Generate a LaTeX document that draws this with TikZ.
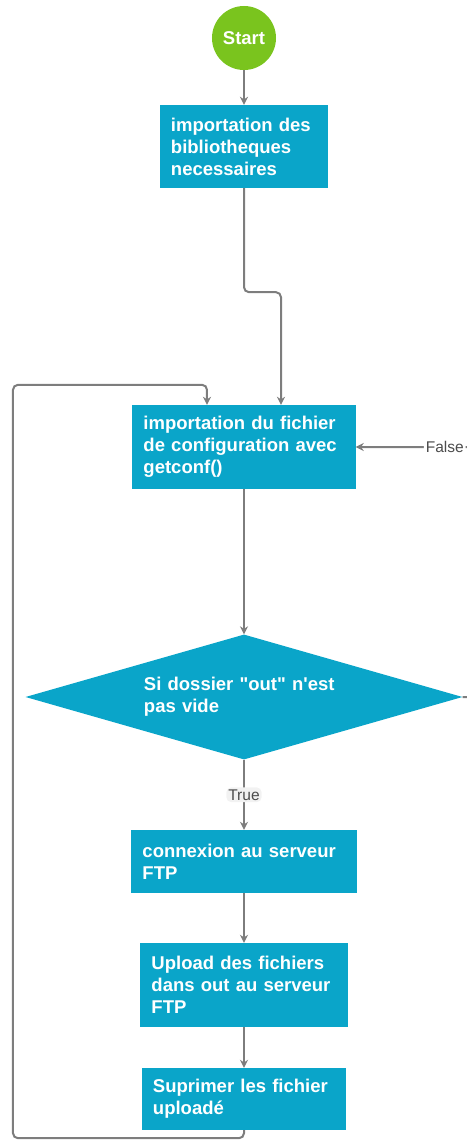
\documentclass[tikz,border=0pt]{standalone}
\usepackage{fontspec}
\setsansfont{Liberation Sans}[Ligatures=TeXOff]
\usepackage{tikz}
\usetikzlibrary{shapes.geometric, arrows.meta}
\definecolor{flowblue}{RGB}{10,165,201}
\definecolor{startgreen}{RGB}{122,196,30}
\definecolor{linegray}{RGB}{125,125,125}
\tikzstyle{arrow} = [line width=2pt,-{Stealth[length=8pt,width=8pt]},color=linegray,rounded corners=5pt]
\tikzstyle{startstop} = [circle, minimum size=64pt, inner sep=0pt, fill=startgreen, text=white, font=\sffamily\bfseries\fontsize{18.5}{22}\selectfont]
\tikzstyle{process} = [rectangle, fill=flowblue, text=white, align=left, inner xsep=11pt, inner ysep=0pt, font=\sffamily\bfseries\fontsize{18.5}{22}\selectfont]
\tikzstyle{decision} = [diamond, aspect=3.5, minimum width=437pt, minimum height=125pt, inner sep=0pt, text width=200pt, align=left, fill=flowblue, text=white, font=\sffamily\bfseries\fontsize{18.5}{22}\selectfont]
\tikzstyle{edgelabel} = [inner sep=2pt, text=black!70, font=\sffamily\fontsize{15.5}{18}\selectfont]

\begin{document}
\begin{tikzpicture}[node distance=100pt]
    \useasboundingbox (-244pt,38pt) rectangle (222pt,-1104pt);

    % nodes
    \node (start) [startstop] {Start};
    \node (bib) [process, below of=start, yshift=-8.5pt, text width=146pt, minimum height=83pt] {importation des\\bibliotheques\\necessaires};
    \node (conf) [process, below of=bib, yshift=-200.5pt, text width=201pt, minimum height=84pt] {importation du fichier\\de configuration avec\\getconf()};

    % test
    \node (dossier) [decision, below of=conf, yshift=-150pt] {Si dossier "out" n'est\\pas vide};

    % branch true
    \node (ftp) [process, below of=dossier, yshift=-64.5pt, text width=203pt, minimum height=63pt] {connexion au serveur\\FTP};
    \node (upload) [process, below of=ftp, yshift=-23.5pt, text width=185pt, minimum height=84pt] {Upload des fichiers\\dans out au serveur\\FTP};
    \node (suppr) [process, below of=upload, yshift=-14pt, text width=182pt, minimum height=62pt] {Suprimer les fichier\\upload\'e};

    % arrows
    \draw [arrow] (start) -- (bib);
    \draw [arrow] (bib.south) -- ++(0,-104pt) -| ([xshift=37pt]conf.north);
    \draw [arrow] (conf) -- (dossier);
    \draw [arrow] (dossier) -- node[edgelabel, fill=black!5] {True} (ftp);
    \draw [arrow] (ftp) -- (upload);
    \draw [arrow] (upload) -- (suppr);

    % back to the configuration
    \draw [arrow] (suppr.south) |- ++(-231pt,-8pt) |- ([xshift=-37pt,yshift=20pt]conf.north) -- ([xshift=-37pt]conf.north);
    \draw [arrow] (dossier.east) -- ++(30pt,0) |- node[pos=0.675, edgelabel, fill=white] {False} (conf.east);
\end{tikzpicture}
\end{document}
